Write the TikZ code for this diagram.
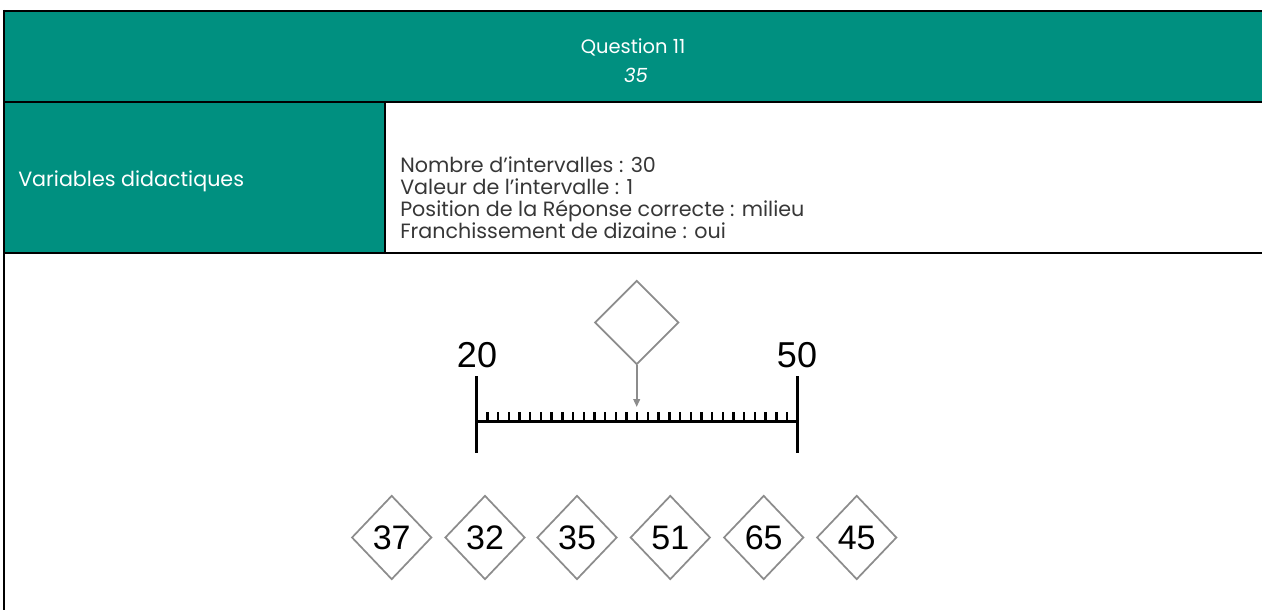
\documentclass[tikz,border=0pt]{standalone}
\usepackage{fontspec}
\setmainfont{Poppins}
\newfontfamily\arialf{Liberation Sans}
\usetikzlibrary{shapes.geometric,arrows.meta}
\definecolor{teal1}{RGB}{0,144,128}
\definecolor{dgray}{RGB}{140,140,140}
\definecolor{txt}{RGB}{55,55,55}
\begin{document}
\begin{tikzpicture}[x=0.75pt,y=-0.75pt,
  dia/.style={diamond, draw=dgray, line width=1.3pt, inner sep=0pt, minimum width=60pt, minimum height=63pt, font=\arialf\fontsize{25.5}{25.5}\selectfont},
  bigdia/.style={diamond, draw=dgray, line width=1.3pt, inner sep=0pt, minimum width=63pt, minimum height=63pt},
  numlab/.style={font=\arialf\fontsize{27}{27}\selectfont, inner sep=0pt},
  headtxt/.style={text=white, font=\fontsize{14.6}{16.5}\selectfont, inner sep=0pt},
  whitetxt/.style={text=white, font=\fontsize{15.5}{16.5}\selectfont, inner sep=0pt},
  bodytxt/.style={text=txt, font=\fontsize{15.5}{16.5}\selectfont, inner sep=0pt, align=left},
  border/.style={line width=2pt},
  thin/.style={line width=1.1pt},
  axis/.style={line width=2pt},
  tick/.style={line width=1.8pt},
  pointer/.style={draw=dgray, line width=1.4pt, -{Triangle[length=6pt,width=5pt]}}]
\useasboundingbox (0,0) rectangle (1262,610);
% table backgrounds
\fill[teal1] (4,11) rectangle (1262,102);
\fill[teal1] (4,102) rectangle (385,253);
% table lines
\draw[thin] (4,102) -- (1262,102);
\draw[thin] (4,253) -- (1262,253);
\draw[thin] (385,102) -- (385,253);
\draw[border] (3,11) -- (1262,11);
\draw[border] (4,10) -- (4,610);
% header text
\node[headtxt] (q) at (633,47) {Question 11};
\node[headtxt, font=\fontsize{14.6}{16.5}\selectfont\itshape] (ans) at (636,75) {35};
\node[whitetxt, anchor=west] (var) at (18,181) {Variables didactiques};
\node[bodytxt, anchor=west] (vals) at (400,198) {Nombre d’intervalles : 30\\Valeur de l’intervalle : 1\\Position de la Réponse correcte : milieu\\Franchissement de dizaine : oui};
% number line
\coordinate (L) at (476.7,421.7);
\coordinate (R) at (797.7,421.7);
\draw[axis] (L) -- (R);
\draw[axis] (476.7,376) -- (476.7,452.7);
\draw[axis] (797.7,376) -- (797.7,452.7);
\foreach \i in {1,...,29} {
  \draw[tick] ({476.7+\i*10.7},412) -- ({476.7+\i*10.7},421.7);
}
\node[numlab] (n20) at (477,355) {20};
\node[numlab] (n50) at (797,355) {50};
% top empty diamond with arrow
\node[bigdia] (top) at (636.7,322.5) {};
\coordinate (tip) at (636.7,407);
\draw[pointer] (top.south) -- (tip);
% answer diamonds
\node[dia] (d37) at (391.7,537.5) {37};
\node[dia] (d32) at (485,537.5) {32};
\node[dia] (d35) at (577,537.5) {35};
\node[dia] (d51) at (670.3,537.5) {51};
\node[dia] (d65) at (763.7,537.5) {65};
\node[dia] (d45) at (856.7,537.5) {45};
\end{tikzpicture}
\end{document}
